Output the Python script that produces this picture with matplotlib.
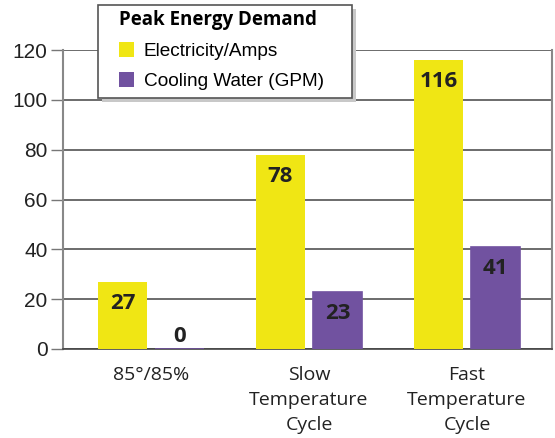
import matplotlib
matplotlib.use("Agg")
import matplotlib.pyplot as plt
import numpy as np
from matplotlib.patches import Patch, Rectangle

categories = ["85°/85%", "Slow\nTemperature\nCycle", "Fast\nTemperature\nCycle"]
electricity = [27, 78, 116]
cooling = [0, 23, 41]
series_names = ["Electricity/Amps", "Cooling Water (GPM)"]
legend_title = "Peak Energy Demand"
yticks = [0, 20, 40, 60, 80, 100, 120]

YEL = "#F0E614"
PUR = "#7152A0"
W, H = 555, 438

fig = plt.figure(figsize=(5.55, 4.38), dpi=100)
ax = fig.add_axes([63/W, 1-349/H, (552-63)/W, (349-50)/H])

x = np.arange(len(categories))
w = 0.31
off = 0.18
ax.bar(x - off, electricity, w, color=YEL, zorder=3)
ax.bar(x + off, cooling, w, color=PUR, zorder=3, edgecolor=PUR, linewidth=1.2)

ax.set_xlim(-0.557, 2.538)
ax.set_ylim(0, 120)
ax.set_yticks(yticks)
ax.set_yticklabels([str(t) for t in yticks], fontfamily="Liberation Sans", fontsize=15, color="#222222")
ax.tick_params(axis="y", length=9, width=1, color="#777777", pad=2)
ax.set_xticks(x)
ax.set_xticklabels(categories, fontfamily="Open Sans", fontsize=14, color="#222222",
                   linespacing=1.5, va="top")
ax.tick_params(axis="x", length=0, pad=12)
ax.grid(axis="y", color="#444444", linewidth=1.1, zorder=0)
ax.spines["top"].set_visible(False)
ax.spines["right"].set_color("#888888")
ax.spines["right"].set_linewidth(1.5)
ax.spines["left"].set_color("#888888")
ax.spines["left"].set_linewidth(1.5)
ax.spines["bottom"].set_color("#444444")
ax.spines["bottom"].set_linewidth(1.2)

lab_kw = dict(ha="center", fontsize=16, fontweight="bold", fontfamily="Open Sans",
              color="#222222", zorder=4)
for xi, v in zip(x - off, electricity):
    ax.text(xi, v - 4.5, str(v), va="top", **lab_kw)
for xi, v in zip(x + off, cooling):
    if v < 10:
        ax.text(xi, v + 1.0, str(v), va="bottom", **lab_kw)
    else:
        ax.text(xi, v - 4.5, str(v), va="top", **lab_kw)

# legend box (manual frame with shadow)
bx0, by0, bx1, by1 = 98, 5, 352, 98
shadow = Rectangle(((bx0 + 4)/W, 1-(by1 + 4)/H), (bx1-bx0)/W, (by1-by0)/H,
                   transform=fig.transFigure, facecolor="#C8C8C8", edgecolor="none",
                   zorder=9)
frame = Rectangle((bx0/W, 1-by1/H), (bx1-bx0)/W, (by1-by0)/H,
                  transform=fig.transFigure, facecolor="white", edgecolor="#555555",
                  linewidth=1.2, zorder=9.5)
fig.add_artist(shadow)
fig.add_artist(frame)

handles = [Patch(facecolor=YEL), Patch(facecolor=PUR)]
leg = fig.legend(handles, series_names, loc="upper left", bbox_to_anchor=(115/W, 1-6/H),
                 title=legend_title, frameon=False,
                 prop={"family": "Liberation Sans", "size": 13.7},
                 title_fontproperties={"family": "Open Sans", "weight": "bold", "size": 13.5},
                 handlelength=0.8, handleheight=0.8, handletextpad=0.5, labelspacing=0.62,
                 borderpad=0.2, borderaxespad=0, alignment="left")
leg.set_zorder(10)
leg._legend_box.sep = 9

fig.savefig("out.png", dpi=100)
